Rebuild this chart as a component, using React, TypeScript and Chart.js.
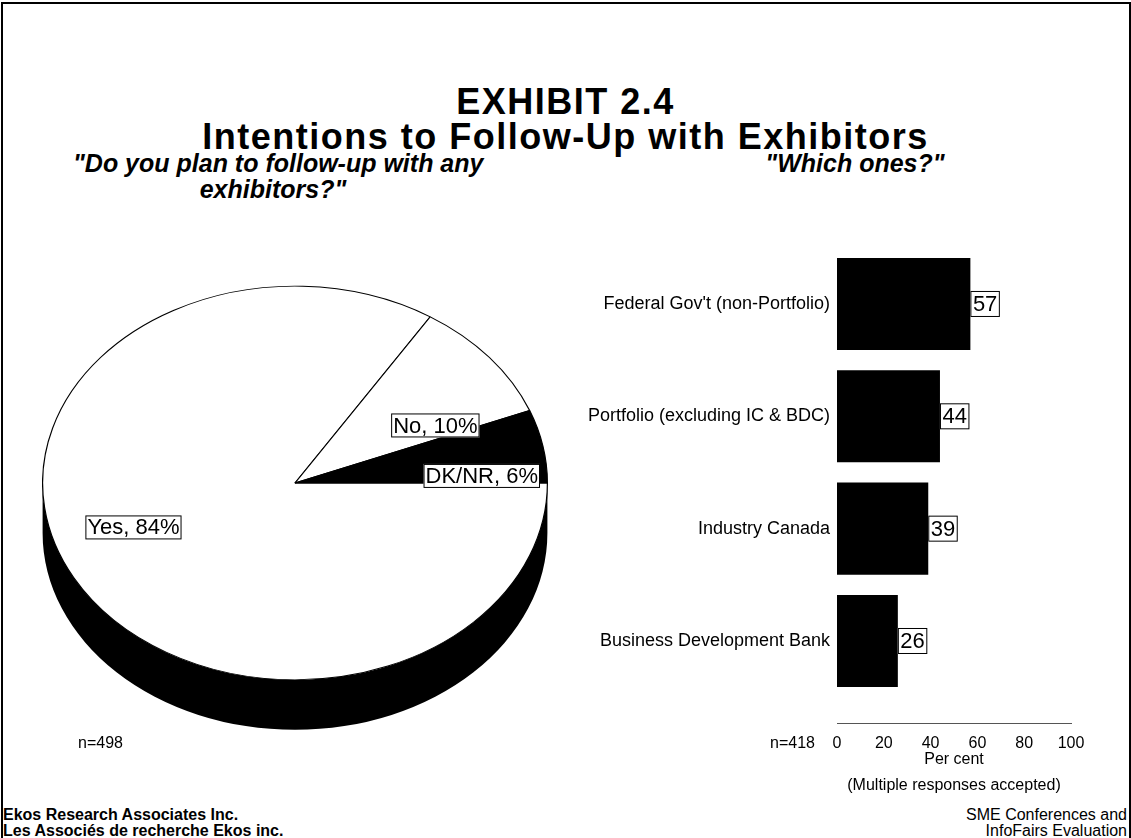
import React, { useEffect, useRef } from "react";
import { Chart, registerables } from "chart.js";

Chart.register(...registerables);

// Pie: "Do you plan to follow-up with any exhibitors?"
const PIE_LABELS = ["Yes", "No", "DK/NR"];
const PIE_VALUES = [84, 10, 6];
const PIE_TOP_COLORS = ["#ffffff", "#ffffff", "#000000"];
const PIE_SIDE_COLORS = ["#000000", "#000000", "#000000"];
const PIE_N = "n=498";

// Bars: "Which ones?"
const BAR_CATEGORIES = [
  "Federal Gov't (non-Portfolio)",
  "Portfolio (excluding IC & BDC)",
  "Industry Canada",
  "Business Development Bank",
];
const BAR_VALUES = [57, 44, 39, 26];
const X_TICKS = [0, 20, 40, 60, 80, 100];
const BAR_N = "n=418";

const FONT = '"Liberation Sans", Arial, Helvetica, sans-serif';

// vertical squash of the pie top and thickness of its rim, in px
const TILT = 0.78;
const DEPTH = 50;
// label centres as fractions of the pie radius (x right, y down, on screen)
const PIE_LABEL_SPOTS = [
  [-0.64, 0.176],
  [0.556, -0.228],
  [0.74, -0.028],
];

const norm = (a: number) => {
  const t = Math.PI * 2;
  return ((a % t) + t) % t;
};

const pie3d = {
  id: "pie3d",
  beforeDatasetsDraw(chart: any) {
    const meta = chart.getDatasetMeta(0);
    const first = meta.data[0];
    const { x, y, outerRadius } = first.getProps(["x", "y", "outerRadius"], true);
    const ctx = chart.ctx;
    ctx.save();
    ctx.translate(x, y);
    ctx.scale(1, TILT);
    ctx.translate(-x, -y);
    const d = DEPTH / TILT;
    // rim: only the front half (angles 0..PI) is visible
    meta.data.forEach((arc: any, i: number) => {
      const p = arc.getProps(["startAngle", "endAngle"], true);
      const s = norm(p.startAngle);
      const e = s + (p.endAngle - p.startAngle);
      const segs: [number, number][] = [];
      for (const off of [0, Math.PI * 2]) {
        const a = Math.max(s, off);
        const b = Math.min(e, off + Math.PI);
        if (b > a) segs.push([a, b]);
      }
      segs.forEach(([a, b]) => {
        ctx.beginPath();
        ctx.arc(x, y + d, outerRadius, a, b, false);
        ctx.lineTo(x + outerRadius * Math.cos(b), y + outerRadius * Math.sin(b));
        ctx.arc(x, y, outerRadius, b, a, true);
        ctx.closePath();
        ctx.fillStyle = PIE_SIDE_COLORS[i];
        ctx.fill();
      });
    });
  },
  afterDatasetsDraw(chart: any) {
    const ctx = chart.ctx;
    ctx.restore();
    const meta = chart.getDatasetMeta(0);
    const { x, y, outerRadius } = meta.data[0].getProps(["x", "y", "outerRadius"], true);
    ctx.save();
    ctx.font = `22px ${FONT}`;
    ctx.textBaseline = "middle";
    ctx.textAlign = "left";
    PIE_LABELS.forEach((lab, i) => {
      const text = `${lab}, ${PIE_VALUES[i]}%`;
      const w = ctx.measureText(text).width;
      const cx = x + PIE_LABEL_SPOTS[i][0] * outerRadius;
      const cy = y + PIE_LABEL_SPOTS[i][1] * outerRadius;
      const bw = w + 4;
      const bh = 24;
      ctx.fillStyle = "#fff";
      ctx.fillRect(cx - bw / 2, cy - bh / 2, bw, bh);
      ctx.strokeStyle = "#000";
      ctx.lineWidth = 1;
      ctx.strokeRect(cx - bw / 2 + 0.5, cy - bh / 2 + 0.5, bw - 1, bh - 1);
      ctx.fillStyle = "#000";
      ctx.fillText(text, cx - w / 2, cy + 1);
    });
    ctx.restore();
  },
};

const barValueBoxes = {
  id: "barValueBoxes",
  afterDatasetsDraw(chart: any) {
    const ctx = chart.ctx;
    const meta = chart.getDatasetMeta(0);
    ctx.save();
    ctx.font = `22px ${FONT}`;
    ctx.textBaseline = "middle";
    ctx.textAlign = "left";
    meta.data.forEach((bar: any, i: number) => {
      const { x, y } = bar.getProps(["x", "y"], true);
      const text = String(BAR_VALUES[i]);
      const w = ctx.measureText(text).width;
      const bw = w + 5;
      const bh = 26;
      ctx.fillStyle = "#fff";
      ctx.fillRect(x, y - bh / 2, bw, bh);
      ctx.strokeStyle = "#000";
      ctx.lineWidth = 1;
      ctx.strokeRect(x + 0.5, y - bh / 2 + 0.5, bw - 1, bh - 1);
      ctx.fillStyle = "#000";
      ctx.fillText(text, x + 2.5, y + 1);
    });
    ctx.restore();
  },
};

function PieChart() {
  const ref = useRef<HTMLCanvasElement>(null);
  useEffect(() => {
    const chart = new Chart(ref.current!, {
      type: "pie",
      data: {
        labels: PIE_LABELS,
        datasets: [
          {
            data: PIE_VALUES,
            backgroundColor: PIE_TOP_COLORS,
            borderColor: "#000",
            borderWidth: 1.2,
          },
        ],
      },
      options: {
        responsive: false,
        animation: false,
        events: [],
        rotation: 90,
        layout: { padding: 0 },
        plugins: { legend: { display: false }, tooltip: { enabled: false } },
      },
      plugins: [pie3d],
    } as any);
    return () => chart.destroy();
  }, []);
  return (
    <canvas
      ref={ref}
      width={506}
      height={506}
      style={{ position: "absolute", left: 42, top: 230, width: 506, height: 506 }}
    />
  );
}

function BarChart() {
  const ref = useRef<HTMLCanvasElement>(null);
  useEffect(() => {
    const chart = new Chart(ref.current!, {
      type: "bar",
      data: {
        datasets: [
          {
            data: BAR_VALUES.map((v, i) => ({ x: v, y: i })),
            backgroundColor: "#000",
            borderWidth: 0,
            barPercentage: 0.82,
            categoryPercentage: 1,
          },
        ],
      },
      options: {
        indexAxis: "y",
        responsive: false,
        animation: false,
        events: [],
        layout: { padding: { top: 15, right: 60, left: 0, bottom: 0 } },
        plugins: { legend: { display: false }, tooltip: { enabled: false } },
        scales: {
          x: {
            type: "linear",
            position: "bottom",
            min: 0,
            max: 100,
            offset: false,
            afterBuildTicks: (s: any) => {
              s.ticks = X_TICKS.map((v) => ({ value: v }));
            },
            afterFit: (s: any) => {
              s.height = 77;
            },
            grid: { display: false, drawTicks: false, offset: false },
            border: { display: true, color: "#555", width: 1 },
            ticks: {
              color: "#000",
              autoSkip: false,
              maxRotation: 0,
              padding: 11,
              font: { family: FONT, size: 16 },
            },
            title: {
              display: true,
              text: ["Per cent", "(Multiple responses accepted)"],
              color: "#000",
              font: { family: FONT, size: 16, lineHeight: 1.6 },
              padding: { top: 0, bottom: 2 },
            },
          },
          y: {
            type: "linear",
            reverse: true,
            min: -0.5,
            max: 3.73,
            offset: false,
            afterBuildTicks: (s: any) => {
              s.ticks = BAR_CATEGORIES.map((_, i) => ({ value: i }));
            },
            afterFit: (s: any) => {
              s.width = 277;
            },
            grid: { display: false, drawTicks: false, offset: false },
            border: { display: false },
            ticks: {
              color: "#000",
              autoSkip: false,
              padding: 7,
              font: { family: FONT, size: 18 },
              callback: (v: any) => BAR_CATEGORIES[v] ?? "",
            },
          },
        },
      },
      plugins: [barValueBoxes],
    } as any);
    return () => chart.destroy();
  }, []);
  return (
    <canvas
      ref={ref}
      width={571}
      height={570}
      style={{ position: "absolute", left: 560, top: 230, width: 571, height: 570 }}
    />
  );
}

const abs = (s: React.CSSProperties): React.CSSProperties => ({
  position: "absolute",
  whiteSpace: "nowrap",
  fontFamily: FONT,
  color: "#000",
  ...s,
});

export default function App() {
  return (
    <div
      style={{
        position: "absolute",
        left: 0,
        top: 0,
        width: 1131,
        height: 838,
        background: "#fff",
        overflow: "hidden",
      }}
    >
      <div
        style={{
          position: "absolute",
          left: 1,
          top: 2,
          width: 1126,
          height: 840,
          borderTop: "2px solid #000",
          borderLeft: "2px solid #000",
          borderRight: "2px solid #000",
        }}
      />
      <div style={abs({ left: 0, width: 1131, top: 102, transform: "translateY(-50%)", textAlign: "center", fontSize: 36, fontWeight: "bold", letterSpacing: "1.5px", lineHeight: "38px" })}>
        EXHIBIT 2.4
      </div>
      <div style={abs({ left: 0, width: 1131, top: 137, transform: "translateY(-50%)", textAlign: "center", fontSize: 36, fontWeight: "bold", letterSpacing: "1.5px", lineHeight: "38px" })}>
        Intentions to Follow-Up with Exhibitors
      </div>
      <div style={abs({ left: 73, width: 400, top: 150, textAlign: "center", fontSize: 25, fontWeight: "bold", fontStyle: "italic", lineHeight: "26px" })}>
        "Do you plan to follow-up with any
        <br />
        exhibitors?"
      </div>
      <div style={abs({ left: 655, width: 400, top: 150, textAlign: "center", fontSize: 25, fontWeight: "bold", fontStyle: "italic", lineHeight: "26px" })}>
        "Which ones?"
      </div>
      <PieChart />
      <BarChart />
      <div style={abs({ left: 78, top: 743, transform: "translateY(-50%)", fontSize: 16 })}>{PIE_N}</div>
      <div style={abs({ left: 770, top: 743, transform: "translateY(-50%)", fontSize: 16 })}>{BAR_N}</div>
      <div style={abs({ left: 3, top: 807, fontSize: 16, fontWeight: "bold", lineHeight: "16px" })}>
        Ekos Research Associates Inc.
        <br />
        Les Associés de recherche Ekos inc.
      </div>
      <div style={abs({ right: 4, top: 807, fontSize: 16, lineHeight: "16px", textAlign: "right" })}>
        SME Conferences and
        <br />
        InfoFairs Evaluation
      </div>
    </div>
  );
}
